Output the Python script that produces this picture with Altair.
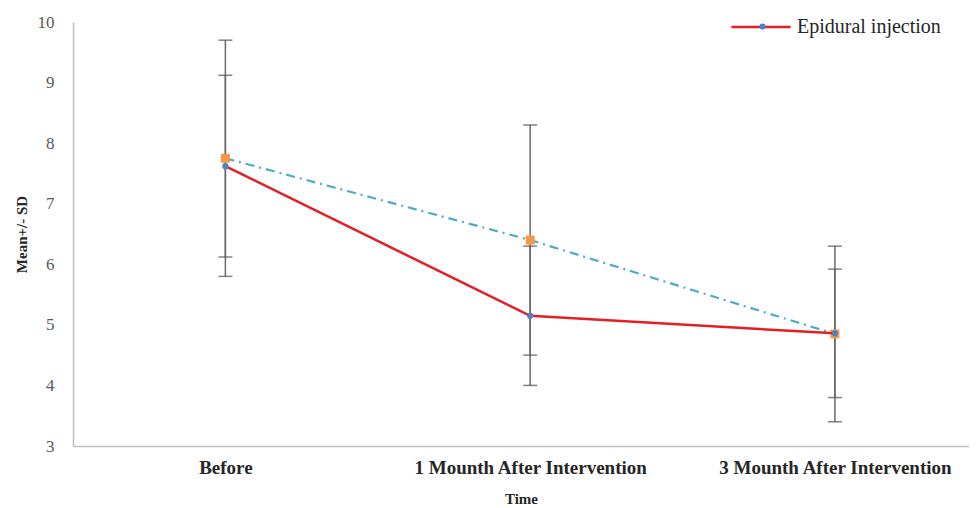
import altair as alt
import pandas as pd
import json

categories = ["Before", "1 Mounth  After Intervention", "3 Mounth  After Intervention"]
red_mean = [7.62, 5.15, 4.86]
red_sd = [1.50, 1.15, 1.06]
blue_mean = [7.75, 6.40, 4.85]
blue_sd = [1.95, 1.90, 1.45]
series_name = "Epidural injection"

rows = []
for i in range(len(categories)):
    rows.append({"idx": i, "mean": red_mean[i], "lo": red_mean[i] - red_sd[i],
                 "hi": red_mean[i] + red_sd[i], "series": series_name})
    rows.append({"idx": i, "mean": blue_mean[i], "lo": blue_mean[i] - blue_sd[i],
                 "hi": blue_mean[i] + blue_sd[i], "series": "second"})
df = pd.DataFrame(rows)
red_df = df[df.series == series_name]
blue_df = df[df.series == "second"]

FONT = "Liberation Serif"
label_expr = json.dumps(categories) + "[datum.value]"

xenc = alt.X("idx:Q",
             scale=alt.Scale(domain=[-0.5, 2.44], nice=False, zero=False),
             axis=alt.Axis(values=[0, 1, 2], labelExpr=label_expr, grid=False, ticks=False,
                           domainColor="#bfbfbf", domainWidth=1.5, labelLimit=0,
                           labelFont=FONT, labelFontSize=19, labelFontWeight="bold",
                           labelColor="#262626", labelPadding=12,
                           title="Time", titleFont=FONT, titleFontSize=15,
                           titleFontWeight="bold", titleColor="#262626", titlePadding=14))
yscale = alt.Scale(domain=[3, 10], nice=False, zero=False)
yaxis = alt.Axis(values=[3, 4, 5, 6, 7, 8, 9, 10], format="d", grid=False, ticks=False,
                 domainColor="#bfbfbf", domainWidth=1.5,
                 labelFont=FONT, labelFontSize=17, labelColor="#595959", labelPadding=19,
                 title="Mean+/- SD", titleFont=FONT, titleFontSize=15,
                 titleFontWeight="bold", titleColor="#262626", titlePadding=8)

base = alt.Chart(df)

bars = base.mark_rule(color="#6b6b6b", strokeWidth=1.5).encode(
    x=xenc, y=alt.Y("lo:Q", scale=yscale, axis=yaxis), y2="hi:Q")
cap_hi = base.mark_tick(orient="horizontal", size=14, thickness=1.5, color="#4d4d4d").encode(
    x="idx:Q", y="hi:Q")
cap_lo = base.mark_tick(orient="horizontal", size=14, thickness=1.5, color="#4d4d4d").encode(
    x="idx:Q", y="lo:Q")

blue_line = alt.Chart(blue_df).mark_line(color="#4bacc6", strokeWidth=2.2,
                                         strokeDash=[9, 5, 2, 5]).encode(
    x="idx:Q", y="mean:Q")
orange_pts = alt.Chart(blue_df).mark_square(size=80, color="#f79646", opacity=1).encode(
    x="idx:Q", y="mean:Q")

red_line = alt.Chart(red_df).mark_line(strokeWidth=2.5).encode(
    x="idx:Q", y="mean:Q",
    color=alt.Color("series:N",
                    scale=alt.Scale(domain=[series_name], range=["#e31e24"]),
                    legend=alt.Legend(orient="none", legendX=657, legendY=-26, title=None,
                                      symbolType="stroke", symbolSize=3500,
                                      symbolStrokeWidth=2.5, padding=0, labelOffset=5,
                                      labelFont=FONT, labelFontSize=20,
                                      labelColor="#262626")))
blue_pts = alt.Chart(red_df).mark_circle(size=38, opacity=1).encode(
    x="idx:Q", y="mean:Q",
    fill=alt.Fill("series:N",
                  scale=alt.Scale(domain=[series_name], range=["#4f81bd"]),
                  legend=alt.Legend(orient="none", legendX=681, legendY=-4, title=None,
                                    symbolType="circle", symbolSize=38, symbolStrokeWidth=0,
                                    padding=0, labelExpr="''", labelFontSize=17)))

chart = alt.layer(bars, cap_hi, cap_lo, blue_line, orange_pts, red_line, blue_pts).resolve_legend(
    color="independent", fill="independent"
).properties(
    width=896, height=424,
    autosize=alt.AutoSizeParams(type="none"),
    padding={"left": 65, "top": 14, "right": 0, "bottom": 62},
    background="white",
).configure_view(stroke=None)

chart.save("out.html", embed_options={"renderer": "svg", "actions": False})
